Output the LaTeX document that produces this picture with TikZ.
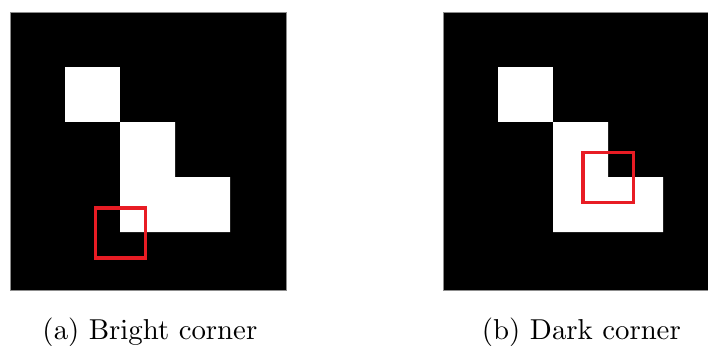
\documentclass[tikz,border=0pt]{standalone}
\usepackage{tikz}
\definecolor{boxred}{RGB}{232,28,36}
\font\capfont=cmr10 at 28.8pt
\begin{document}
\begin{tikzpicture}[x=1pt,y=-1pt,
  panel/.style={fill=black},
  cell/.style={fill=white},
  marker/.style={draw=boxred,line width=3.4pt},
  caption/.style={font=\capfont,anchor=base,inner sep=0pt}]
\useasboundingbox (0,0) rectangle (708,345);
\begin{scope}
\clip (0,0) rectangle (708,345);
% left panel
\fill[panel] (10,12) rectangle (286,290);
\draw[black!45,line width=0.6pt] (10,12) rectangle (286,290);
\fill[cell] (65,67) rectangle (120,122);
\fill[cell] (120,122) -- (175,122) -- (175,177) -- (230,177) -- (230,232) -- (120,232) -- cycle;
\draw[marker] (95.5,208) rectangle (145.5,258);
% right panel
\fill[panel] (443,12) rectangle (719,290);
\draw[black!45,line width=0.6pt] (443,12) rectangle (719,290);
\fill[cell] (498,67) rectangle (553,122);
\fill[cell] (553,122) -- (608,122) -- (608,177) -- (663,177) -- (663,232) -- (553,232) -- cycle;
\draw[marker] (583,152.5) rectangle (633.5,202.5);
\end{scope}
\node[caption] (capa) at (150,339.5) {(a) Bright corner};
\node[caption] (capb) at (581.5,339.5) {(b) Dark corner};
\end{tikzpicture}
\end{document}
